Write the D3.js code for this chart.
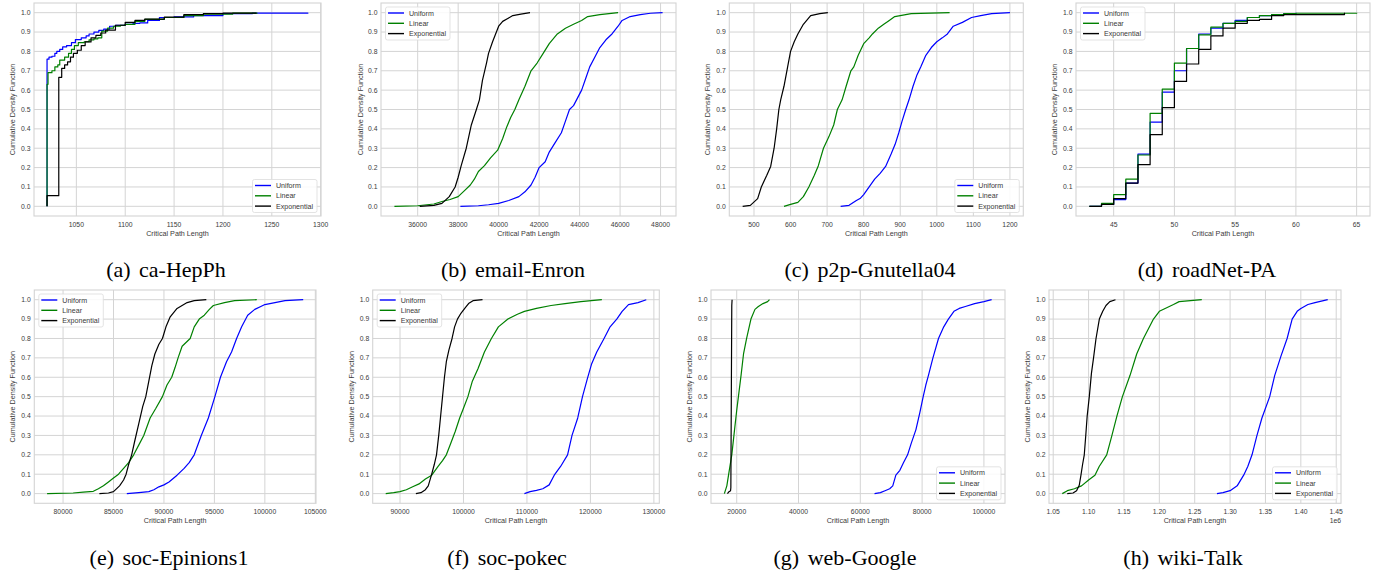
<!DOCTYPE html>
<html>
<head>
<meta charset="utf-8">
<script src="https://cdn.jsdelivr.net/npm/d3@7/dist/d3.min.js"></script>
<style>
  body { margin: 0; background: #fff; }
  svg { display: block; }
</style>
</head>
<body>
<svg id="fig" width="1390" height="573"></svg>
<script>
// ----------------------- DATA (x = critical path length, y = CDF) -----------------------
var seriesNames = ["Uniform", "Linear", "Exponential"];

var hepphUniform = [[1020,0],[1020,0.76],[1022,0.77],[1025,0.775],[1028,0.79],[1030,0.80],[1033,0.81],[1036,0.823],[1040,0.83],[1045,0.845],[1049,0.861],[1055,0.87],[1060,0.88],[1063,0.89],[1068,0.9],[1073,0.909],[1078,0.915],[1084,0.93],[1090,0.935],[1100,0.94],[1108,0.945],[1115,0.947],[1123,0.96],[1135,0.975],[1150,0.978],[1170,0.985],[1200,0.995],[1230,0.998],[1287,1.0]];
var hepphLinear = [[1020,0],[1020,0.63],[1021,0.69],[1025,0.70],[1028,0.72],[1031,0.73],[1033,0.755],[1038,0.77],[1042,0.79],[1045,0.81],[1048,0.83],[1052,0.845],[1058,0.85],[1063,0.86],[1068,0.865],[1072,0.87],[1076,0.875],[1076,0.905],[1082,0.92],[1088,0.93],[1095,0.935],[1100,0.94],[1110,0.955],[1120,0.965],[1140,0.975],[1160,0.985],[1180,0.993],[1210,0.998],[1235,1.0]];
var hepphExp = [[1020,0],[1020,0.055],[1032,0.055],[1032,0.666],[1035,0.712],[1038,0.73],[1041,0.746],[1044,0.77],[1047,0.79],[1051,0.806],[1055,0.83],[1059,0.849],[1065,0.87],[1070,0.883],[1075,0.895],[1080,0.91],[1090,0.935],[1100,0.95],[1110,0.96],[1120,0.967],[1140,0.977],[1160,0.99],[1180,0.995],[1200,0.998],[1234,1.0]];

var enronUniform = [[38110,0],[39000,0.003],[39500,0.008],[40000,0.015],[40500,0.03],[41000,0.05],[41300,0.075],[41600,0.11],[41800,0.15],[42000,0.2],[42300,0.23],[42500,0.28],[42800,0.33],[43100,0.38],[43300,0.44],[43500,0.5],[43700,0.52],[43900,0.56],[44100,0.6],[44300,0.66],[44500,0.72],[44800,0.78],[45000,0.82],[45300,0.86],[45600,0.89],[45900,0.93],[46100,0.96],[46500,0.98],[47000,0.99],[47500,0.997],[48100,1.0]];
var enronLinear = [[34850,0],[36000,0.003],[36800,0.012],[37200,0.025],[37600,0.035],[38000,0.05],[38300,0.08],[38600,0.11],[38800,0.14],[39000,0.18],[39300,0.21],[39600,0.25],[39950,0.29],[40200,0.35],[40400,0.41],[40600,0.46],[40800,0.5],[41000,0.55],[41300,0.62],[41600,0.7],[41900,0.74],[42200,0.79],[42500,0.84],[42900,0.89],[43300,0.92],[43700,0.94],[44100,0.96],[44400,0.98],[45000,0.99],[45900,1.0]];
var enronExp = [[36100,0],[36800,0.005],[37200,0.015],[37560,0.05],[37850,0.1],[38000,0.15],[38150,0.21],[38400,0.3],[38650,0.42],[38900,0.5],[39050,0.55],[39200,0.65],[39400,0.74],[39500,0.79],[39700,0.85],[40000,0.93],[40200,0.955],[40450,0.97],[40700,0.985],[41100,0.993],[41550,1.0]];

var gnutellaUniform = [[737,0],[760,0.005],[780,0.03],[790,0.04],[800,0.06],[815,0.1],[830,0.14],[845,0.17],[860,0.206],[875,0.27],[886,0.32],[896,0.38],[905,0.44],[915,0.5],[924,0.55],[935,0.62],[946,0.68],[956,0.72],[970,0.78],[985,0.82],[1000,0.85],[1015,0.87],[1029,0.89],[1045,0.93],[1070,0.95],[1095,0.975],[1120,0.985],[1150,0.995],[1200,1.0]];
var gnutellaLinear = [[582,0],[600,0.01],[620,0.02],[635,0.05],[650,0.1],[665,0.16],[676,0.21],[690,0.3],[705,0.36],[718,0.42],[728,0.5],[741,0.55],[752,0.62],[765,0.7],[773,0.72],[785,0.78],[800,0.84],[815,0.87],[824,0.89],[840,0.92],[855,0.94],[870,0.96],[885,0.98],[900,0.985],[930,0.995],[1035,1.0]];
var gnutellaExp = [[469,0],[490,0.005],[510,0.04],[520,0.1],[535,0.16],[545.6,0.206],[555,0.3],[562,0.4],[568,0.5],[573,0.55],[582,0.62],[592,0.72],[600,0.8],[610,0.85],[620,0.89],[635,0.94],[655,0.985],[680,0.995],[702,1.0]];

var roadUniform = [[43,0],[44,0.01],[45,0.035],[46,0.12],[47,0.27],[48,0.435],[49,0.59],[50,0.70],[51,0.815],[52,0.89],[53,0.92],[54,0.945],[55,0.96],[56,0.975],[57,0.985],[58,0.99],[59,0.995],[60,1.0]];
var roadLinear = [[43,0],[44,0.015],[45,0.06],[46,0.14],[47,0.265],[48,0.48],[49,0.605],[50,0.74],[51,0.815],[52,0.885],[53,0.925],[54,0.945],[55,0.955],[56,0.975],[57,0.985],[58,0.99],[59,0.995],[60,0.997],[65,1.0]];
var roadExp = [[43,0],[44,0.01],[45,0.04],[46,0.12],[47,0.215],[48,0.37],[49,0.51],[50,0.645],[51,0.735],[52,0.81],[53,0.88],[54,0.92],[55,0.945],[56,0.96],[57,0.965],[58,0.985],[59,0.99],[64,1.0]];

var epinionsUniform = [[86320,0],[87500,0.005],[88500,0.01],[89000,0.02],[89500,0.035],[90000,0.045],[90500,0.06],[91300,0.095],[92000,0.13],[92500,0.16],[93000,0.2],[93700,0.3],[94400,0.39],[95050,0.5],[95600,0.6],[96200,0.68],[96700,0.73],[97200,0.8],[97700,0.86],[98300,0.92],[99000,0.95],[99600,0.965],[100000,0.975],[101000,0.985],[102000,0.995],[103800,1.0]];
var epinionsLinear = [[78420,0],[81000,0.003],[82000,0.008],[83000,0.012],[83500,0.025],[84000,0.04],[84500,0.06],[85000,0.08],[85500,0.1],[86000,0.13],[86500,0.16],[87000,0.2],[87500,0.25],[88000,0.3],[88630,0.39],[89200,0.44],[89850,0.5],[90300,0.56],[90770,0.6],[91100,0.65],[91400,0.7],[91800,0.76],[92600,0.8],[93000,0.86],[93500,0.9],[94000,0.92],[94500,0.95],[94900,0.97],[96000,0.985],[97000,0.995],[99200,1.0]];
var epinionsExp = [[83600,0],[84500,0.003],[85000,0.01],[85600,0.04],[86000,0.07],[86250,0.1],[86500,0.15],[86800,0.2],[87100,0.27],[87500,0.36],[87900,0.45],[88200,0.5],[88500,0.58],[88800,0.66],[89100,0.72],[89500,0.77],[89850,0.8],[90200,0.86],[90600,0.91],[90900,0.93],[91300,0.955],[91800,0.97],[92300,0.985],[93000,0.995],[94200,1.0]];

var pokecUniform = [[109600,0],[110500,0.01],[111500,0.017],[112500,0.025],[113500,0.045],[114300,0.095],[115300,0.14],[116400,0.2],[117100,0.3],[118000,0.39],[118750,0.5],[119500,0.59],[120200,0.67],[121000,0.73],[122150,0.8],[123100,0.86],[124150,0.9],[125000,0.94],[126000,0.975],[127500,0.985],[128800,1.0]];
var pokecLinear = [[87750,0],[89000,0.005],[90000,0.01],[91000,0.02],[92000,0.035],[93000,0.05],[94000,0.075],[95000,0.095],[96000,0.14],[96700,0.17],[97300,0.2],[98000,0.26],[98700,0.32],[99400,0.39],[100000,0.44],[100700,0.5],[101400,0.58],[102300,0.645],[103300,0.73],[104400,0.8],[105500,0.86],[107000,0.9],[108500,0.925],[109600,0.94],[111500,0.955],[113800,0.97],[116000,0.98],[118500,0.99],[121800,1.0]];
var pokecExp = [[92500,0],[93300,0.005],[94000,0.02],[94450,0.04],[94950,0.095],[95400,0.15],[95750,0.2],[96100,0.3],[96400,0.4],[96700,0.5],[97000,0.6],[97300,0.68],[97700,0.74],[98200,0.8],[98600,0.86],[99050,0.9],[99600,0.93],[100200,0.955],[100800,0.98],[101500,0.995],[103000,1.0]];

var googleUniform = [[64600,0],[66500,0.005],[68000,0.015],[69500,0.025],[70500,0.04],[71500,0.095],[72800,0.12],[74000,0.16],[75300,0.2],[76500,0.26],[78000,0.33],[79300,0.42],[80350,0.5],[81200,0.56],[82050,0.61],[83500,0.7],[85300,0.8],[87000,0.86],[88500,0.9],[90300,0.94],[92000,0.955],[94000,0.965],[97000,0.98],[100000,0.99],[102500,1.0]];
var googleLinear = [[16000,0],[16800,0.04],[17400,0.1],[18400,0.2],[19300,0.33],[20000,0.43],[20550,0.5],[21400,0.61],[22200,0.72],[23200,0.8],[24600,0.9],[25900,0.95],[27000,0.965],[28500,0.98],[30000,0.99],[30600,1.0]];
var googleExp = [[17000,0],[17500,0.01],[18000,0.015],[18100,0.03],[18250,0.5],[18400,0.97],[18500,1.0]];

var wikiUniform = [[1281400,0],[1290000,0.005],[1300000,0.015],[1310000,0.04],[1319200,0.095],[1325000,0.14],[1331000,0.2],[1338000,0.3],[1345000,0.39],[1356000,0.5],[1363100,0.61],[1372000,0.71],[1380600,0.8],[1387700,0.9],[1394800,0.94],[1400000,0.955],[1410000,0.975],[1420000,0.985],[1438000,1.0]];
var wikiLinear = [[1062800,0],[1070000,0.015],[1080000,0.025],[1090000,0.04],[1100000,0.07],[1109000,0.095],[1115000,0.14],[1125600,0.2],[1133000,0.3],[1140000,0.4],[1147800,0.5],[1158600,0.61],[1168000,0.72],[1177500,0.8],[1191700,0.9],[1200000,0.94],[1208200,0.955],[1220000,0.975],[1228000,0.99],[1260000,1.0]];
var wikiExp = [[1069800,0],[1078000,0.003],[1083000,0.015],[1086800,0.043],[1089200,0.095],[1091500,0.15],[1093900,0.2],[1096000,0.3],[1098000,0.4],[1101000,0.5],[1104000,0.62],[1107000,0.7],[1110500,0.8],[1115200,0.9],[1120000,0.94],[1124600,0.97],[1130000,0.99],[1138000,1.0]];

// tick labels
var yTicks = [0, 0.1, 0.2, 0.3, 0.4, 0.5, 0.6, 0.7, 0.8, 0.9, 1.0];
var hepphTicks = [1050, 1100, 1150, 1200, 1250, 1300];
var enronTicks = [36000, 38000, 40000, 42000, 44000, 46000, 48000];
var gnutellaTicks = [500, 600, 700, 800, 900, 1000, 1100, 1200];
var roadTicks = [45, 50, 55, 60, 65];
var epinionsTicks = [80000, 85000, 90000, 95000, 100000, 105000];
var pokecTicks = [90000, 100000, 110000, 120000, 130000];
var googleTicks = [20000, 40000, 60000, 80000, 100000];
var wikiTicks = [1050000, 1100000, 1150000, 1200000, 1250000, 1300000, 1350000, 1400000, 1450000];

var captions = ["(a) ca-HepPh", "(b) email-Enron", "(c) p2p-Gnutella04", "(d) roadNet-PA",
                "(e) soc-Epinions1", "(f) soc-pokec", "(g) web-Google", "(h) wiki-Talk"];

// ----------------------- LAYOUT -------------------------------
var colors = ["#0000ff", "#008000", "#000000"];
var gridColor = "#d4d4d4";
var textColor = "#3a3a3a";
var top1 = 3, bot1 = 216, top2 = 290, bot2 = 503.3;

var panels = [
  {series: [hepphUniform, hepphLinear, hepphExp], ticks: hepphTicks, left: 34, right: 321, top: top1, bottom: bot1, ylab: 12.7, legend: "lr", step: true, cap: 166},
  {series: [enronUniform, enronLinear, enronExp], ticks: enronTicks, left: 381, right: 676, top: top1, bottom: bot1, ylab: 360, legend: "ul", cap: 513},
  {series: [gnutellaUniform, gnutellaLinear, gnutellaExp], ticks: gnutellaTicks, left: 729.3, right: 1023.3, top: top1, bottom: bot1, ylab: 707.3, legend: "lr", cap: 870},
  {series: [roadUniform, roadLinear, roadExp], ticks: roadTicks, left: 1076, right: 1370, top: top1, bottom: bot1, ylab: 1054.3, legend: "ul", step: true, cap: 1207},
  {series: [epinionsUniform, epinionsLinear, epinionsExp], ticks: epinionsTicks, left: 34.3, right: 316, top: top2, bottom: bot2, ylab: 12.7, legend: "ul", cap: 169},
  {series: [pokecUniform, pokecLinear, pokecExp], ticks: pokecTicks, left: 372.7, right: 659.3, top: top2, bottom: bot2, ylab: 351, legend: "ul", cap: 507},
  {series: [googleUniform, googleLinear, googleExp], ticks: googleTicks, left: 711, right: 1005, top: top2, bottom: bot2, ylab: 689, legend: "lr", cap: 845},
  {series: [wikiUniform, wikiLinear, wikiExp], ticks: wikiTicks, left: 1049, right: 1341, top: top2, bottom: bot2, ylab: 1027.7, legend: "lr", cap: 1183, sci: 1e6}
];

var svg = d3.select("#fig");

panels.forEach(function(p, pi) {
  var all = [].concat.apply([], p.series);
  var ext = d3.extent(all, function(d) { return d[0]; });
  var pad = (ext[1] - ext[0]) * 0.05;   // matplotlib style 5% margins

  var x = d3.scaleLinear().domain([ext[0] - pad, ext[1] + pad]).range([p.left, p.right]);
  var y = d3.scaleLinear().domain([-0.05, 1.05]).range([p.bottom, p.top]);

  var g = svg.append("g");

  // grid
  g.append("g").selectAll("line")
    .data(p.ticks).enter().append("line")
      .attr("x1", function(d) { return x(d); }).attr("x2", function(d) { return x(d); })
      .attr("y1", p.top).attr("y2", p.bottom)
      .attr("stroke", gridColor).attr("stroke-width", 1);
  g.append("g").selectAll("line")
    .data(yTicks).enter().append("line")
      .attr("y1", function(d) { return y(d); }).attr("y2", function(d) { return y(d); })
      .attr("x1", p.left).attr("x2", p.right)
      .attr("stroke", gridColor).attr("stroke-width", 1);

  g.append("rect")
    .attr("x", p.left).attr("y", p.top)
    .attr("width", p.right - p.left).attr("height", p.bottom - p.top)
    .attr("fill", "none").attr("stroke", gridColor).attr("stroke-width", 1.1);

  // tick labels
  var fmt = p.sci ? function(d) { return (d / p.sci).toFixed(2); } : d3.format("d");
  g.append("g").selectAll("text")
    .data(p.ticks).enter().append("text")
      .attr("x", function(d) { return x(d); })
      .attr("y", p.bottom + 10.5)
      .attr("text-anchor", "middle")
      .attr("font-size", 6.8).attr("fill", textColor)
      .text(fmt);
  g.append("g").selectAll("text")
    .data(yTicks).enter().append("text")
      .attr("x", p.left - 3.5)
      .attr("y", function(d) { return y(d); })
      .attr("dy", "0.35em")
      .attr("text-anchor", "end")
      .attr("font-size", 6.8).attr("fill", textColor)
      .text(d3.format(".1f"));

  if (p.sci) {
    g.append("text")
      .attr("x", p.right).attr("y", p.bottom + 20)
      .attr("text-anchor", "end")
      .attr("font-size", 6.8).attr("fill", textColor)
      .text("1e6");
  }

  // axis labels
  g.append("text")
    .attr("x", (p.left + p.right) / 2).attr("y", p.bottom + 20)
    .attr("text-anchor", "middle")
    .attr("font-size", 7.2).attr("fill", textColor)
    .text("Critical Path Length");
  g.append("text")
    .attr("transform", "translate(" + p.ylab + "," + (p.top + p.bottom) / 2 + ") rotate(-90)")
    .attr("dy", "0.35em")
    .attr("text-anchor", "middle")
    .attr("font-size", 7.2).attr("fill", textColor)
    .text("Cumulative Density Function");

  // cdf curves
  var line = d3.line()
    .x(function(d) { return x(d[0]); })
    .y(function(d) { return y(d[1]); })
    .curve(p.step ? d3.curveStepAfter : d3.curveLinear);

  g.append("g").selectAll("path")
    .data(p.series).enter().append("path")
      .attr("d", line)
      .attr("fill", "none")
      .attr("stroke", function(d, i) { return colors[i]; })
      .attr("stroke-width", 1.2)
      .attr("stroke-linejoin", "round");

  // legend
  var lw = 64.5, lh = 33;
  var lx = p.legend == "ul" ? p.left + 4.5 : p.right - 4 - lw;
  var ly = p.legend == "ul" ? p.top + 4 : p.bottom - 3.5 - lh;
  var leg = g.append("g").attr("transform", "translate(" + lx + "," + ly + ")");
  leg.append("rect")
    .attr("width", lw).attr("height", lh).attr("rx", 2)
    .attr("fill", "#fff").attr("fill-opacity", 0.85)
    .attr("stroke", "#dcdcdc").attr("stroke-width", 0.8);
  var item = leg.selectAll("g.item")
    .data(seriesNames).enter().append("g")
      .attr("class", "item")
      .attr("transform", function(d, i) { return "translate(0," + (6 + i * 10.3) + ")"; });
  item.append("line")
    .attr("x1", 2.5).attr("x2", 18.5)
    .attr("stroke", function(d, i) { return colors[i]; })
    .attr("stroke-width", 1.4);
  item.append("text")
    .attr("x", 23.5).attr("dy", "0.35em")
    .attr("font-size", 7.1).attr("fill", textColor)
    .text(function(d) { return d; });

  // sub-caption
  svg.append("text")
    .attr("x", p.cap).attr("y", pi < 4 ? 276.5 : 565)
    .attr("text-anchor", "middle")
    .attr("font-family", "'Liberation Serif', 'Times New Roman', serif")
    .attr("font-size", 22).attr("fill", "#000")
    .attr("word-spacing", 3)
    .text(captions[pi]);
});

svg.selectAll("text:not([font-family])").attr("font-family", "'Liberation Sans', Arial, sans-serif");
</script>
</body>
</html>
